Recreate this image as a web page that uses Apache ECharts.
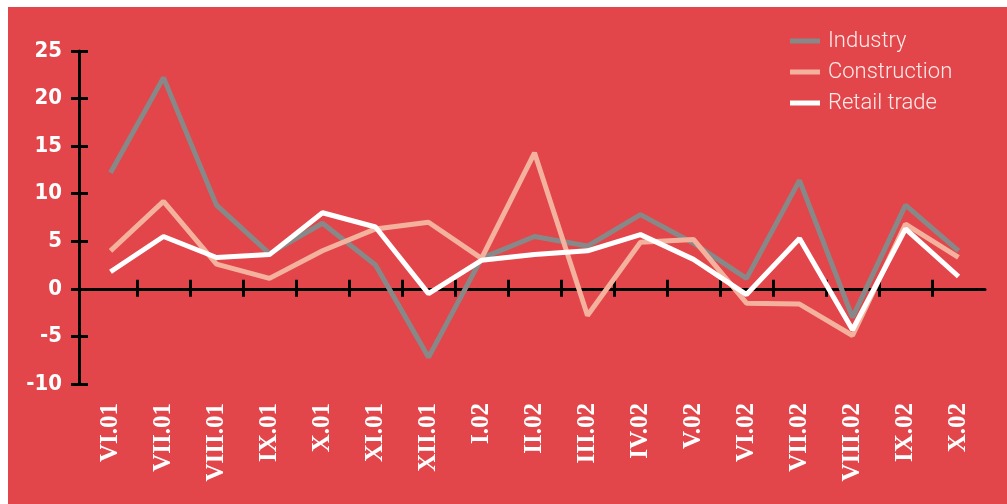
<!DOCTYPE html>
<html>
<head>
<meta charset="utf-8">
<script src="https://cdn.jsdelivr.net/npm/echarts@6/dist/echarts.min.js"></script>
<style>
  html, body { margin: 0; padding: 0; background: #fff; }
  #chart { position: absolute; left: 8px; top: 7px; width: 999px; height: 497px; }
</style>
</head>
<body>
<div id="chart"></div>
<script>
const months = ['VI.01', 'VII.01', 'VIII.01', 'IX.01', 'X.01', 'XI.01', 'XII.01', 'I.02', 'II.02',
  'III.02', 'IV.02', 'V.02', 'VI.02', 'VII.02', 'VIII.02', 'IX.02', 'X.02'];
const industry = [12.2, 22.2, 8.8, 3.7, 6.9, 2.5, -7.2, 3.2, 5.5, 4.5, 7.8, 4.8, 1.1, 11.4, -3.0, 8.8, 4.0];
const construction = [4.0, 9.2, 2.6, 1.1, 4.0, 6.3, 7.0, 3.2, 14.3, -2.8, 4.9, 5.2, -1.5, -1.6, -4.9, 6.8, 3.3];
const retail = [1.8, 5.5, 3.3, 3.6, 8.0, 6.5, -0.5, 3.0, 3.6, 4.0, 5.7, 3.1, -0.6, 5.3, -4.3, 6.3, 1.3];
const yMin = -10, yMax = 25, yStep = 5;

// ticks sit on the boundaries between months (not at the ends)
const boundaryTicks = months.slice(1).map((m, i) => i + 1);

const myChart = echarts.init(document.getElementById('chart'), null, { renderer: 'canvas' });

const tickAxis = (inside, len, showLine) => ({
  type: 'value',
  position: 'bottom',
  min: 0,
  max: months.length,
  axisLine: { show: true, onZero: true, lineStyle: { color: showLine ? '#000' : 'rgba(0,0,0,0)', width: 3 } },
  axisTick: { show: true, inside: inside, length: len, customValues: boundaryTicks, lineStyle: { color: '#000', width: 3 } },
  axisLabel: { show: false },
  splitLine: { show: false }
});

const valAxis = (inside, len, showLabel) => ({
  type: 'value',
  position: 'left',
  offset: 5,
  min: yMin,
  max: yMax,
  interval: yStep,
  axisLine: { show: showLabel, onZero: false, lineStyle: { color: '#000', width: 3 } },
  axisTick: { show: true, inside: inside, length: len, lineStyle: { color: '#000', width: 3 } },
  axisLabel: {
    show: showLabel, margin: 17, color: '#fff', fontSize: 22, fontWeight: 'bold',
    fontFamily: 'DejaVu Sans Condensed, DejaVu Sans, sans-serif'
  },
  splitLine: { show: false }
});

const option = {
  backgroundColor: '#e2454a',
  animation: false,
  color: ['#888888', '#f4b29e', '#ffffff'],
  legend: {
    orient: 'vertical',
    left: 777,
    top: 18,
    itemWidth: 30,
    itemHeight: 5,
    itemGap: 9,
    icon: 'rect',
    textStyle: { color: '#fdebe9', fontSize: 22, fontFamily: 'Roboto', fontWeight: 300, padding: [0, 0, 0, 3] },
    data: ['Industry', 'Construction', 'Retail trade']
  },
  grid: { left: 76, top: 44, width: 901, height: 333, containLabel: false },
  xAxis: [
    {
      type: 'category',
      position: 'bottom',
      data: months,
      boundaryGap: true,
      axisLine: { show: false, onZero: false },
      axisTick: { show: false },
      axisLabel: {
        rotate: 90, margin: 19, color: '#fff', fontSize: 25, fontWeight: 'bold',
        fontFamily: 'Liberation Serif, serif', interval: 0
      }
    },
    tickAxis(false, 8, true),
    tickAxis(true, 9, false)
  ],
  yAxis: [valAxis(false, 8, true), valAxis(true, 9, false)],
  series: [
    { name: 'Industry', type: 'line', data: industry, showSymbol: false, lineStyle: { width: 5 } },
    { name: 'Construction', type: 'line', data: construction, showSymbol: false, lineStyle: { width: 5 } },
    { name: 'Retail trade', type: 'line', data: retail, showSymbol: false, lineStyle: { width: 5 } }
  ]
};

myChart.setOption(option);
window.onresize = function () {
  myChart.resize();
};
</script>
</body>
</html>
